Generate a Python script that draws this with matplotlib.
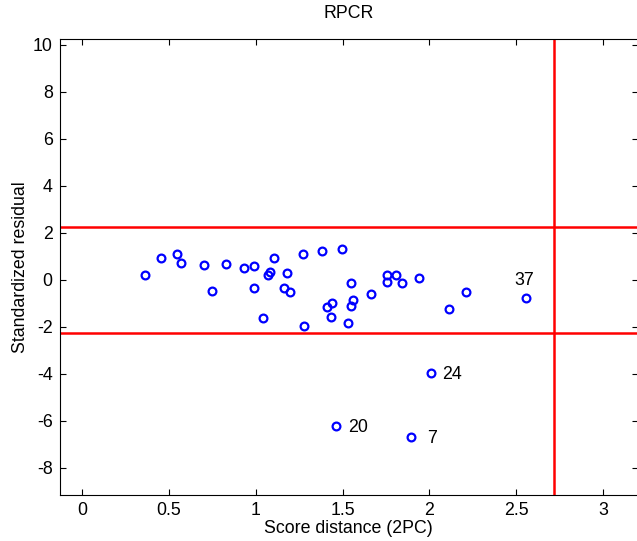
import matplotlib
matplotlib.use("Agg")
import matplotlib.pyplot as plt
import numpy as np

# score distance (2PC) and standardized residual for each observation
score_dist = [0.362, 0.456, 0.547, 0.572, 0.699, 0.745, 0.827, 0.931, 0.991, 1.105,
              1.272, 1.384, 1.496, 1.070, 1.084, 1.178, 0.991, 1.165, 1.197, 1.043,
              1.278, 1.546, 1.757, 1.807, 1.757, 1.842, 1.665, 1.438, 1.413, 1.559,
              1.547, 1.432, 1.530, 1.942, 2.211, 2.115, 2.556, 2.008, 1.461, 1.894]
std_resid = [0.226, 0.936, 1.119, 0.723, 0.651, -0.481, 0.668, 0.511, 0.583, 0.949,
             1.094, 1.247, 1.332, 0.213, 0.328, 0.285, -0.340, -0.328, -0.498, -1.630,
             -1.970, -0.115, 0.226, 0.226, -0.098, -0.140, -0.609, -0.979, -1.162, -0.851,
             -1.119, -1.562, -1.817, 0.072, -0.498, -1.221, -0.766, -3.957, -6.200, -6.668]

# flagged observations: (index into arrays, label)
flagged = [(36, "37"), (37, "24"), (38, "20"), (39, "7")]

resid_cut = 2.2414   # sqrt(chi2_1, 0.975)
sd_cut = 2.7162      # sqrt(chi2_2, 0.975)

xticks = [0, 0.5, 1, 1.5, 2, 2.5, 3]
xticklabels = ["0", "0.5", "1", "1.5", "2", "2.5", "3"]
yticks = [-8, -6, -4, -2, 0, 2, 4, 6, 8, 10]

plt.rcParams["font.family"] = ["Liberation Sans", "DejaVu Sans"]
plt.rcParams["axes.unicode_minus"] = False
FS = 12.8

fig = plt.figure(figsize=(6.37, 5.41), dpi=100)
ax = fig.add_axes([0.0937, 0.085, 0.9071, 0.8424])

ax.plot(score_dist, std_resid, "o", mfc="none", mec="#0000ff", ms=5.6, mew=1.6)
ax.axhline(resid_cut, color="#ff0000", lw=1.8)
ax.axhline(-resid_cut, color="#ff0000", lw=1.8)
ax.axvline(sd_cut, color="#ff0000", lw=1.8)

# label placement offsets (points) for each flagged observation
offsets = {"37": (-1, 14, "center"), "24": (8, 0, "left"),
           "20": (9, 0, "left"), "7": (12, 0, "left")}
for i, lab in flagged:
    dx, dy, ha = offsets[lab]
    ax.annotate(lab, (score_dist[i], std_resid[i]), xytext=(dx, dy),
                textcoords="offset points", ha=ha, va="center_baseline",
                fontsize=FS)

ax.set_xlim(-0.13, 3.2)
ax.set_ylim(-9.15, 10.24)
ax.set_xticks(xticks)
ax.set_xticklabels(xticklabels)
ax.set_yticks(yticks)
ax.tick_params(direction="in", length=4, width=0.8, top=True, right=True,
               labelsize=FS, pad=5)
for s in ax.spines.values():
    s.set_linewidth(0.8)

ax.set_xlabel("Score distance (2PC)", fontsize=FS, labelpad=1)
ax.set_ylabel("Standardized residual", fontsize=FS, labelpad=2.5)
ax.set_title("RPCR", fontsize=FS, pad=15)

fig.savefig("out.png", dpi=100)
plt.close(fig)
